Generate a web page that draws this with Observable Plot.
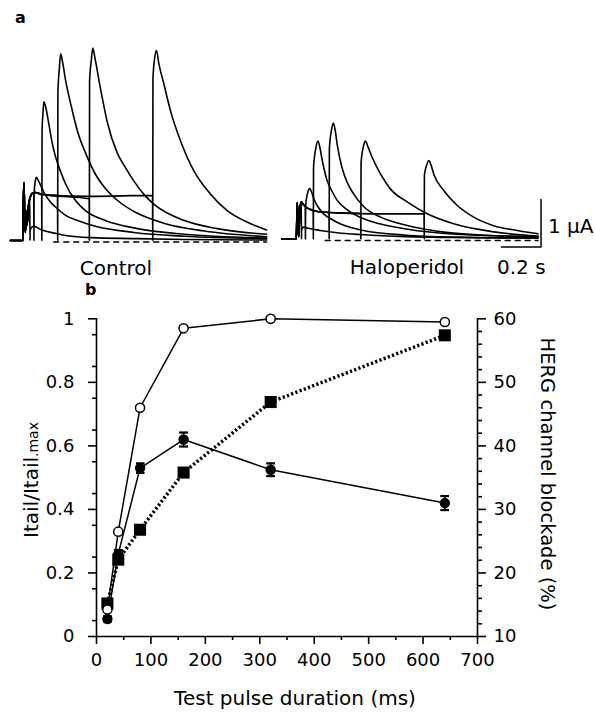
<!DOCTYPE html>
<html><head><meta charset="utf-8">
<script src="https://cdn.jsdelivr.net/npm/d3@7"></script>
<script src="https://cdn.jsdelivr.net/npm/@observablehq/plot@0.6"></script>
<style>
body{margin:0;background:#fff;}
#root{position:relative;width:595px;height:713px;font-family:"DejaVu Sans",sans-serif;color:#000;overflow:hidden;background:#fff}
.abs{position:absolute;white-space:nowrap;line-height:1}
#root svg{position:absolute;overflow:visible}
</style></head><body><div id="root"></div>
<script>
// ---------- Panel b data ----------
const durations = [20, 40, 80, 160, 320, 640];            // test pulse duration (ms)
const controlNorm = [0.085, 0.33, 0.72, 0.97, 1.0, 0.99];   // open circles, Itail/Itail,max
const haloperidolNorm = [0.055, 0.26, 0.53, 0.62, 0.525, 0.42]; // filled circles
const haloperidolSem = [0.008, 0.012, 0.015, 0.022, 0.02, 0.022];
const blockadePct = [15.2, 22.1, 26.8, 35.8, 46.9, 57.4];   // squares, right axis (%)
const xTicks = [0, 100, 200, 300, 400, 500, 600, 700];
const leftTicks = [0, 0.2, 0.4, 0.6, 0.8, 1];
const rightTicks = [10, 20, 30, 40, 50, 60];

// ---------- Panel a data (time ms from pulse onset, current µA) ----------
const controlActivation = [[-80,0],[-15,0],[-13,0.84],[-10,1.22],[-7,0.53],[-3,0.17],[2,0.63],[5,0.32],[13,0.74],[23,0.93],[33,1.0],[48,1.01],[73,0.98],[124,0.95],[326,0.93],[640,0.95]];
const controlTail20 = [[19,0.88],[20,0],[21,0.22],[38,0.3],[80,0.22],[150,0.15],[210,0.1],[330,0.06],[545,0.04],[800,0.02],[1215,0.01]];
const controlTail40 = [[39,1.0],[40,0],[41,1.0],[47,1.25],[53,1.33],[65,1.24],[90,1.02],[125,0.8],[150,0.7],[200,0.53],[260,0.42],[350,0.3],[545,0.17],[800,0.09],[1215,0.04]];
const controlTail80 = [[79,0.98],[80,0],[81,2.3],[86,2.7],[90,2.92],[100,2.8],[115,2.46],[135,2.0],[150,1.75],[175,1.45],[200,1.19],[250,0.84],[300,0.63],[400,0.42],[550,0.26],[800,0.13],[1215,0.05]];
const controlTail160 = [[159,0.95],[160,0],[161,3.1],[168,3.6],[175,3.93],[185,3.75],[200,3.37],[230,2.8],[260,2.3],[300,1.85],[350,1.4],[400,1.1],[475,0.8],[550,0.6],[700,0.36],[900,0.2],[1215,0.08]];
const controlTail320 = [[319,0.88],[320,0],[321,3.35],[330,3.8],[337,4.05],[350,3.8],[376,3.2],[410,2.5],[460,1.85],[500,1.55],[545,1.25],[600,0.95],[650,0.75],[800,0.42],[966,0.25],[1215,0.13]];
const controlTail640 = [[639,0.95],[640,0],[641,3.4],[650,3.85],[659,4.0],[671,3.72],[696,3.3],[729,2.74],[780,2.1],[847,1.47],[931,0.98],[1016,0.63],[1100,0.42],[1215,0.22]];

const haloActivation = [[-80,0],[-6,0],[-3,0.5],[-1,0.77],[3,0.3],[6,0.05],[10,0.4],[14,0.7],[20,0.78],[30,0.72],[50,0.65],[100,0.58],[200,0.55],[400,0.53],[640,0.53]];
const haloTail20 = [[19,0.78],[20,0],[21,0.2],[30,0.25],[60,0.22],[115,0.18],[200,0.13],[332,0.09],[548,0.05],[800,0.03],[1215,0.02]];
const haloTail40 = [[39,0.7],[40,0],[41,0.7],[50,0.95],[62,1.06],[72,0.98],[82,0.85],[100,0.7],[132,0.53],[170,0.42],[215,0.32],[332,0.18],[548,0.08],[800,0.04],[1215,0.02]];
const haloTail80 = [[79,0.6],[80,0],[81,1.5],[92,1.9],[103,2.06],[112,1.95],[123,1.7],[148,1.25],[175,1.0],[198,0.83],[240,0.65],[282,0.53],[350,0.4],[415,0.32],[548,0.21],[800,0.1],[1215,0.05]];
const haloTail160 = [[159,0.56],[160,0],[161,1.9],[172,2.3],[181,2.44],[190,2.3],[200,2.0],[225,1.5],[250,1.2],[280,0.97],[335,0.68],[420,0.46],[550,0.29],[750,0.14],[1000,0.07],[1215,0.04]];
const haloTail320 = [[319,0.54],[320,0],[321,1.6],[333,1.95],[343,2.06],[355,1.95],[377,1.72],[419,1.37],[470,1.05],[554,0.78],[655,0.53],[789,0.32],[993,0.15],[1215,0.06]];
const haloTail640 = [[639,0.53],[640,0],[641,1.34],[652,1.55],[663,1.65],[675,1.55],[688,1.37],[739,1.02],[806,0.71],[890,0.46],[991,0.28],[1110,0.18],[1215,0.11]];

const baselineTime = [140, 1215];       // dotted zero-current line
const scaleBarTime = [1030, 1230];      // 0.2 s
const scaleBarCurrent = [-0.17, 0.83];  // 1 µA

// ---------- helpers ----------
const root = document.getElementById("root");
function label(text, css, html) {
  const d = document.createElement("div");
  d.className = "abs";
  if (html) d.innerHTML = text; else d.textContent = text;
  Object.assign(d.style, css);
  root.appendChild(d);
  return d;
}
function place(svg, left, top) {
  svg.style.left = left + "px"; svg.style.top = top + "px";
  root.appendChild(svg);
}
function buildTraces(act, tails) {
  return tails.flatMap((tail, k) =>
    act.filter(p => p[0] < tail[0][0]).concat(tail).map(([t, I]) => ({t, I, k})));
}
const FONT = '"DejaVu Sans", sans-serif';

// ---------- Panel a: Control ----------
const ctrlData = buildTraces(controlActivation, [controlTail20, controlTail40, controlTail80, controlTail160, controlTail320, controlTail640]);
const ctrlPlot = Plot.plot({
  width: 270, height: 230,
  marginLeft: 9.66, marginRight: 2.9, marginTop: 10.5, marginBottom: 10.5,
  x: {domain: [-80, 1220], axis: null},
  y: {domain: [-0.2, 4.2], axis: null},
  style: {background: "transparent"},
  marks: [
    Plot.line(baselineTime.map(t => ({t, I: -0.03})), {x: "t", y: "I", stroke: "black", strokeWidth: 1.5, strokeDasharray: "5,5"}),
    Plot.line(ctrlData, {x: "t", y: "I", z: "k", curve: "monotone-x", stroke: "black", strokeWidth: 1.6})
  ]
});
place(ctrlPlot, 0, 30);

// ---------- Panel a: Haloperidol ----------
const haloData = buildTraces(haloActivation, [haloTail20, haloTail40, haloTail80, haloTail160, haloTail320, haloTail640]);
const bar = [
  {t: scaleBarTime[0], I: scaleBarCurrent[0]},
  {t: scaleBarTime[1], I: scaleBarCurrent[0]},
  {t: scaleBarTime[1], I: scaleBarCurrent[1]}
];
const haloPlot = Plot.plot({
  width: 315, height: 230,
  marginLeft: 1.16, marginRight: 52.5, marginTop: 9, marginBottom: 12,
  x: {domain: [-80, 1240], axis: null},
  y: {domain: [-0.2, 4.2], axis: null},
  style: {background: "transparent"},
  marks: [
    Plot.line(baselineTime.map(t => ({t, I: -0.03})), {x: "t", y: "I", stroke: "black", strokeWidth: 1.5, strokeDasharray: "5,5"}),
    Plot.line(haloData, {x: "t", y: "I", z: "k", curve: "monotone-x", stroke: "black", strokeWidth: 1.6}),
    Plot.line(bar, {x: "t", y: "I", stroke: "black", strokeWidth: 1.5})
  ]
});
place(haloPlot, 280, 30);

// ---------- Panel b ----------
const rMin = rightTicks[0], rMax = rightTicks[rightTicks.length - 1];
const toLeft = v => (v - rMin) / (rMax - rMin);
const pts = durations.map((d, i) => ({
  d, ctrl: controlNorm[i], halo: haloperidolNorm[i], sem: haloperidolSem[i], blk: toLeft(blockadePct[i])
}));
const xMinor = d3.range(50, 700, 100);
const leftMinor = d3.range(0.05, 1, 0.1);
const rightMinor = d3.range(rMin + 2, rMax, 2).filter(v => v % 10 !== 0).map(toLeft);

const bPlot = Plot.plot({
  width: 595, height: 413,
  marginLeft: 96, marginRight: 118, marginTop: 18.3, marginBottom: 77,
  x: {domain: [0, 700]},
  y: {domain: [0, 1]},
  style: {fontFamily: FONT, fontSize: "18px", background: "transparent", color: "black"},
  marks: [
    Plot.frame({anchor: "left", strokeWidth: 1.6}),
    Plot.frame({anchor: "right", strokeWidth: 1.6}),
    Plot.frame({anchor: "bottom", strokeWidth: 1.6}),
    Plot.axisX({ticks: xTicks, tickSize: 8, tickPadding: 9, tickFormat: d => String(d), label: null, strokeWidth: 1.6}),
    Plot.axisX({ticks: xMinor, tickSize: 4, tickFormat: () => "", label: null, strokeWidth: 1.6}),
    Plot.axisY({ticks: leftTicks, tickSize: 8, tickPadding: 14, tickFormat: d => String(+d.toFixed(1)), label: null, strokeWidth: 1.6}),
    Plot.axisY({ticks: leftMinor, tickSize: 4, tickFormat: () => "", label: null, strokeWidth: 1.6}),
    Plot.axisY({anchor: "right", ticks: rightTicks.map(toLeft), tickSize: 8, tickPadding: 8, tickFormat: (d, i) => String(rightTicks[i]), label: null, strokeWidth: 1.6}),
    Plot.axisY({anchor: "right", ticks: rightMinor, tickSize: 4, tickFormat: () => "", label: null, strokeWidth: 1.6}),
    // HERG blockade (squares, dotted)
    Plot.line(pts, {x: "d", y: "blk", stroke: "black", strokeWidth: 3.5, strokeDasharray: "2.2,2.3", strokeLinecap: "butt"}),
    Plot.dot(pts, {x: "d", y: "blk", symbol: "square", r: 6.8, fill: "black"}),
    // Haloperidol (filled circles)
    Plot.line(pts, {x: "d", y: "halo", stroke: "black", strokeWidth: 1.5}),
    Plot.link(pts, {x1: "d", x2: "d", y1: d => d.halo - d.sem, y2: d => d.halo + d.sem, stroke: "black", strokeWidth: 1.5, markerStart: "tick", markerEnd: "tick"}),
    Plot.dot(pts, {x: "d", y: "halo", r: 5.2, fill: "black"}),
    // Control (open circles)
    Plot.line(pts, {x: "d", y: "ctrl", stroke: "black", strokeWidth: 1.5}),
    Plot.dot(pts, {x: "d", y: "ctrl", r: 4.6, fill: "white", stroke: "black", strokeWidth: 1.5})
  ]
});
place(bPlot, 0, 300);

// ---------- Text labels ----------
label("a", {left: "15px", top: "10px", fontSize: "16px", fontWeight: "bold"});
label("b", {left: "85px", top: "282px", fontSize: "16px", fontWeight: "bold"});
label("Control", {left: "116px", top: "258px", fontSize: "20px", transform: "translateX(-50%)"});
label("Haloperidol", {left: "407px", top: "257px", fontSize: "20px", transform: "translateX(-50%)"});
label("0.2 s", {left: "497px", top: "257px", fontSize: "20px"});
label("1 \u00b5A", {left: "548px", top: "216px", fontSize: "20px"});
label("Test pulse duration (ms)", {left: "295px", top: "688px", fontSize: "20px", transform: "translateX(-50%)"});
label('Itail/Itail<span style="font-size:14px">.max</span>', {left: "31px", top: "480px", fontSize: "20px", transform: "translate(-50%,-50%) rotate(-90deg)"}, true);
label("HERG channel blockade (%)", {left: "547px", top: "474px", fontSize: "19.5px", transform: "translate(-50%,-50%) rotate(90deg)"});
</script></body></html>
